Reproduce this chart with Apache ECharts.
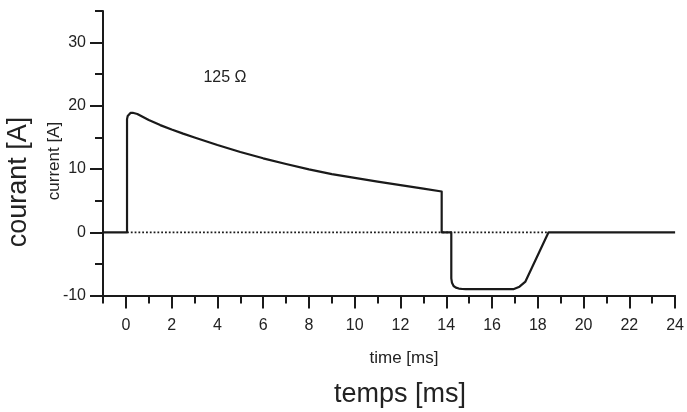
<!DOCTYPE html>
<html>
<head>
<meta charset="utf-8">
<script src="https://cdn.jsdelivr.net/npm/echarts@6/dist/echarts.min.js"></script>
<style>
html,body{margin:0;padding:0;background:#fff;}
#chart{width:687px;height:412px;}
</style>
</head>
<body>
<div id="chart"></div>
<script>
// time [ms]
const time = [-1, 0.05, 0.05, 0.08, 0.13, 0.2, 0.3, 0.5, 1, 1.5, 2, 2.5, 3, 4, 5, 6, 7, 8, 9, 10, 11, 12, 13, 13.8, 13.8, 14.22, 14.22, 14.25, 14.32, 14.42, 14.55, 14.7, 14.85, 15.2, 16.93, 17.2, 17.46, 18.47, 24];
// current [A]
const current = [0, 0, 17.9, 18.4, 18.7, 18.88, 18.9, 18.7, 17.75, 16.95, 16.25, 15.6, 15.0, 13.8, 12.7, 11.7, 10.8, 9.95, 9.2, 8.6, 8.0, 7.45, 6.9, 6.45, 0, 0, -7.3, -8.0, -8.5, -8.75, -8.9, -8.97, -9.0, -9.0, -9.0, -8.6, -7.8, 0, 0];
// dotted zero reference
const zeroTime = [0.05, 18.47];
const zeroCurrent = [0, 0];
// ticks
const xMajorTicks = [0, 2, 4, 6, 8, 10, 12, 14, 16, 18, 20, 22, 24];
const xMinorTicks = [-1, 1, 3, 5, 7, 9, 11, 13, 15, 17, 19, 21, 23];
const yMajorTicks = [-10, 0, 10, 20, 30];
const yMinorTicks = [-5, 5, 15, 25, 35];

const FONT = "'Liberation Sans', Arial, Helvetica, sans-serif";
const INK = '#1a1a1a';

const chart = echarts.init(document.getElementById('chart'), null, {renderer: 'canvas'});

const mainSeries = time.map((t, i) => [t, current[i]]);
const zeroSeries = zeroTime.map((t, i) => [t, zeroCurrent[i]]);

const option = {
  animation: false,
  backgroundColor: '#fff',
  grid: {left: 103, right: 8, top: 11, bottom: 116.5, containLabel: false},
  xAxis: [
    {
      type: 'value', min: -1, max: 24,
      axisLine: {onZero: false, lineStyle: {color: INK, width: 2}},
      axisTick: {customValues: xMajorTicks, length: 13, lineStyle: {color: INK, width: 2}},
      axisLabel: {customValues: xMajorTicks, margin: 22, fontSize: 16, color: '#222', fontFamily: FONT},
      splitLine: {show: false}
    },
    {
      type: 'value', min: -1, max: 24, position: 'bottom',
      axisLine: {show: false, onZero: false},
      axisTick: {customValues: xMinorTicks, length: 8, lineStyle: {color: INK, width: 2}},
      axisLabel: {show: false},
      splitLine: {show: false}
    }
  ],
  yAxis: [
    {
      type: 'value', min: -10, max: 35,
      axisLine: {show: true, onZero: false, lineStyle: {color: INK, width: 2}},
      axisTick: {show: true, customValues: yMajorTicks, length: 13, lineStyle: {color: INK, width: 2}},
      axisLabel: {customValues: yMajorTicks, margin: 17, fontSize: 16, color: '#222', fontFamily: FONT},
      splitLine: {show: false}
    },
    {
      type: 'value', min: -10, max: 35, position: 'left',
      axisLine: {show: false, onZero: false},
      axisTick: {show: true, customValues: yMinorTicks, length: 8, lineStyle: {color: INK, width: 2}},
      axisLabel: {show: false},
      splitLine: {show: false}
    }
  ],
  series: [
    {
      type: 'line', xAxisIndex: 0, yAxisIndex: 0,
      data: zeroSeries, showSymbol: false, silent: true, z: 1,
      lineStyle: {color: INK, width: 1.8, type: [1.8, 2]}
    },
    {
      type: 'line', xAxisIndex: 0, yAxisIndex: 0,
      data: mainSeries, showSymbol: false, smooth: false, z: 3,
      lineStyle: {color: INK, width: 2.2, join: 'round'}
    }
  ],
  graphic: [
    {type: 'text', x: 19, y: 182, rotation: Math.PI / 2,
     style: {text: 'courant [A]', fontSize: 27, fontFamily: FONT, fill: '#222', align: 'center', verticalAlign: 'middle'}},
    {type: 'text', x: 54, y: 161, rotation: Math.PI / 2,
     style: {text: 'current [A]', fontSize: 17, fontFamily: FONT, fill: '#222', align: 'center', verticalAlign: 'middle'}},
    {type: 'text', x: 404, y: 358,
     style: {text: 'time [ms]', fontSize: 17, fontFamily: FONT, fill: '#222', align: 'center', verticalAlign: 'middle'}},
    {type: 'text', x: 400, y: 395,
     style: {text: 'temps [ms]', fontSize: 27, fontFamily: FONT, fill: '#222', align: 'center', verticalAlign: 'middle'}},
    {type: 'text', x: 225, y: 78,
     style: {text: '125 Ω', fontSize: 16, fontFamily: FONT, fill: '#222', align: 'center', verticalAlign: 'middle'}}
  ]
};
chart.setOption(option);
</script>
</body>
</html>
